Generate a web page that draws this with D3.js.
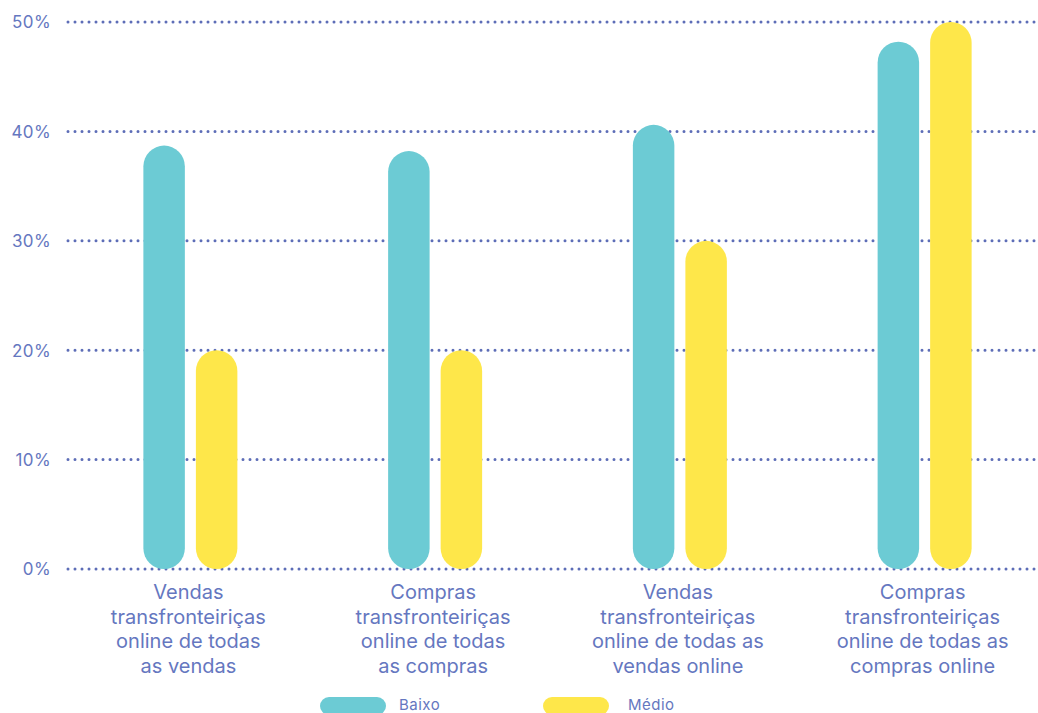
<!DOCTYPE html>
<html>
<head>
<meta charset="utf-8">
<script src="https://cdn.jsdelivr.net/npm/d3@7"></script>
<style>
  html, body { margin: 0; padding: 0; background: #fff; }
  svg { display: block; }
  text { font-family: "Inter", "Noto Sans", sans-serif; }
</style>
</head>
<body>
<svg id="chart" width="1038" height="713"></svg>
<script>
// Data
const categories = [
  ["Vendas", "transfronteiriças", "online de todas", "as vendas"],
  ["Compras", "transfronteiriças", "online de todas", "as compras"],
  ["Vendas", "transfronteiriças", "online de todas as", "vendas online"],
  ["Compras", "transfronteiriças", "online de todas as", "compras online"]
];
const seriesNames = ["Baixo", "Médio"];
const baixo = [38.7, 38.2, 40.6, 48.2];
const medio = [20, 20, 30, 50];
const yTicks = [0, 10, 20, 30, 40, 50];

const colors = { Baixo: "#6ccbd4", "Médio": "#fee74a" };
const textColor = "#6577c0";
const gridColor = "#5d6db7";

const svg = d3.select("#chart");

const y = d3.scaleLinear().domain([0, 50]).range([569, 22]);
const x = d3.scaleBand().domain(d3.range(categories.length)).range([68, 1047]);
const xs = d3.scaleBand().domain(seriesNames).range([0, 94]).paddingInner(0.21);

// Dotted gridlines
svg.append("g").selectAll("line")
  .data(yTicks)
  .join("line")
  .attr("x1", 68).attr("x2", 1035)
  .attr("y1", d => y(d)).attr("y2", d => y(d))
  .attr("stroke", gridColor)
  .attr("stroke-width", 3)
  .attr("stroke-linecap", "round")
  .attr("stroke-dasharray", "0 7");

// Y axis labels
svg.append("g").selectAll("text")
  .data(yTicks)
  .join("text")
  .attr("x", 51).attr("y", d => y(d) + 6.3)
  .attr("text-anchor", "end")
  .attr("fill", textColor)
  .attr("font-size", 17)
  .attr("letter-spacing", 0.4)
  .text(d => d + "%");

// Pill-shaped bars
const rows = [];
categories.forEach((c, i) => {
  rows.push({ i, s: "Baixo", v: baixo[i] });
  rows.push({ i, s: "Médio", v: medio[i] });
});
const bw = xs.bandwidth();
svg.append("g").selectAll("rect")
  .data(rows)
  .join("rect")
  .attr("x", d => x(d.i) + x.bandwidth() / 2 - 47 + xs(d.s))
  .attr("width", bw)
  .attr("y", d => y(d.v))
  .attr("height", d => y(0) - y(d.v))
  .attr("rx", bw / 2).attr("ry", bw / 2)
  .attr("fill", d => colors[d.s]);

// Category labels
const lab = svg.append("g").selectAll("text")
  .data(categories)
  .join("text")
  .attr("text-anchor", "middle")
  .attr("fill", textColor)
  .attr("font-size", 20);
lab.each(function(lines, i) {
  d3.select(this).selectAll("tspan")
    .data(lines)
    .join("tspan")
    .attr("x", x(i) + x.bandwidth() / 2 - 2)
    .attr("y", (d, k) => 599 + k * 24.7)
    .text(d => d);
});

// Legend
const legendX = [320, 543];
const lg = svg.append("g").selectAll("g")
  .data(seriesNames)
  .join("g")
  .attr("transform", (d, k) => `translate(${legendX[k]},697)`);
lg.append("rect")
  .attr("width", 66).attr("height", 18)
  .attr("rx", 9).attr("ry", 9)
  .attr("fill", d => colors[d]);
lg.append("text")
  .attr("x", (d, k) => k === 0 ? 79 : 85)
  .attr("y", 12.5)
  .attr("fill", textColor)
  .attr("font-size", 15)
  .attr("letter-spacing", 0.5)
  .text(d => d);
</script>
</body>
</html>
